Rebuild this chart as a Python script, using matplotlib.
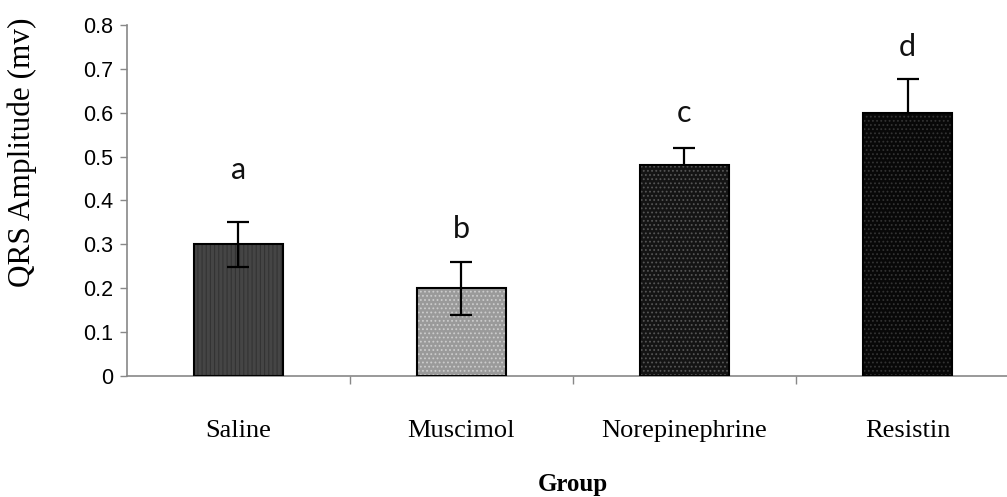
import matplotlib
matplotlib.use("Agg")
import matplotlib.pyplot as plt

groups = ["Saline", "Muscimol", "Norepinephrine", "Resistin"]
means = [0.30, 0.20, 0.48, 0.60]
errors = [0.052, 0.06, 0.04, 0.077]
letters = ["a", "b", "c", "d"]
letter_y = [0.47, 0.335, 0.60, 0.75]

fills = ["#454545", "#9a9a9a", "#141414", "#080808"]
hatch_colors = ["#333333", "#cccccc", "#555555", "#333333"]
hatches = ["||||", "....", "....", "...."]

plt.rcParams["hatch.linewidth"] = 0.8

fig = plt.figure(figsize=(10.07, 4.97), dpi=100)
ax = fig.add_axes([0.126, 0.2435, 0.874, 0.7062])

x = list(range(len(groups)))
for i in x:
    ax.bar(i, means[i], width=0.40, color=fills[i], hatch=hatches[i],
           edgecolor=hatch_colors[i], linewidth=0, zorder=2)
    ax.bar(i, means[i], width=0.40, fill=False, edgecolor="black",
           linewidth=1.5, zorder=3)

# light bars show the whole whisker, the dark ones hide the lower half
ax.errorbar(x[:2], means[:2], yerr=errors[:2], fmt="none", ecolor="black",
            elinewidth=1.6, capsize=8, capthick=1.6, zorder=4)
ax.errorbar(x[2:], means[2:], yerr=errors[2:], fmt="none", ecolor="black",
            elinewidth=1.6, capsize=8, capthick=1.6, zorder=1)

for i in x:
    ax.text(i, letter_y[i], letters[i], ha="center", va="center",
            fontsize=22, family="Lato", color="#111111")

ax.set_xlim(-0.5, 3.446)
ax.set_ylim(0, 0.8)
ax.set_yticks([0, 0.1, 0.2, 0.3, 0.4, 0.5, 0.6, 0.7, 0.8])
ax.set_yticklabels(["0", "0.1", "0.2", "0.3", "0.4", "0.5", "0.6", "0.7", "0.8"],
                   family="Liberation Sans", fontsize=15.5)
ax.set_xticks([0.5, 1.5, 2.5])
ax.set_xticklabels([])
ax.tick_params(axis="y", length=5, width=1, color="#888888", pad=5)
ax.tick_params(axis="x", length=6, width=1, color="#888888")

for i, g in enumerate(groups):
    ax.text(i, -0.125, g, ha="center", va="center", fontsize=19,
            family="Liberation Serif", clip_on=False)

for s in ["top", "right"]:
    ax.spines[s].set_visible(False)
for s in ["left", "bottom"]:
    ax.spines[s].set_color("#888888")
    ax.spines[s].set_linewidth(1.2)

fig.text(0.022, 0.694, "QRS Amplitude (mv)", rotation=90, ha="center",
         va="center", fontsize=22.5, family="Liberation Serif")
fig.text(0.569, 0.026, "Group", ha="center", va="center", fontsize=18,
         family="Liberation Serif", weight="bold")

fig.savefig("out.png", dpi=100)
